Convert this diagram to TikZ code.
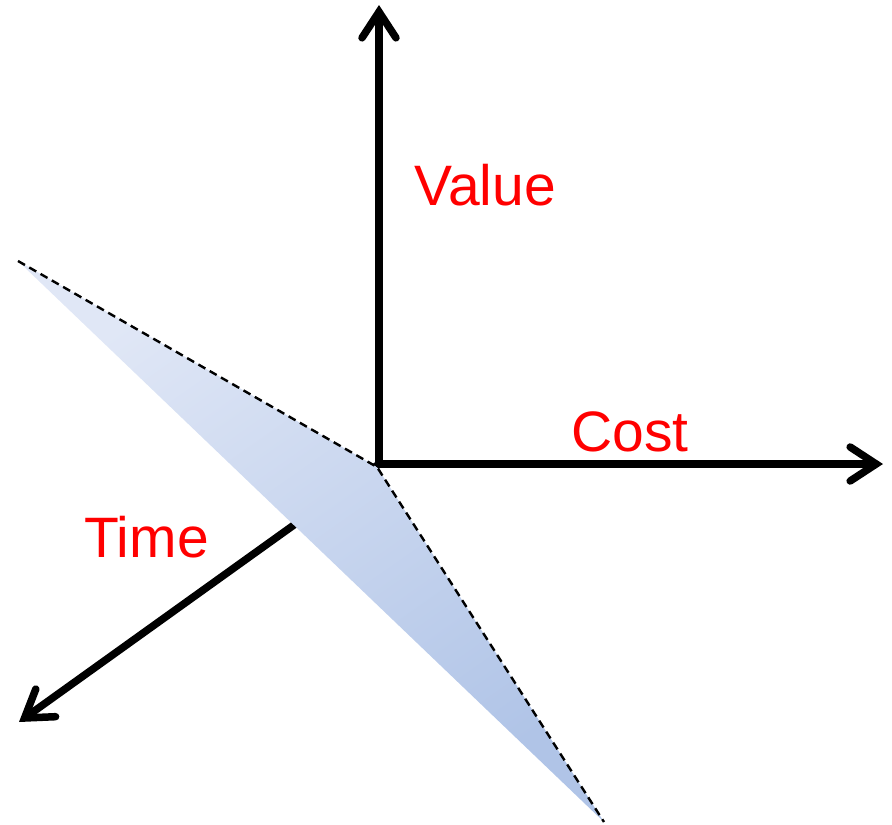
\documentclass[tikz,border=0pt]{standalone}
\usepackage{fontspec}
\setmainfont{Liberation Sans}
\usetikzlibrary{arrows.meta}
\definecolor{planedark}{RGB}{176,196,231}
\definecolor{planelight}{RGB}{224,231,246}
\tikzset{
  axis/.style={line width=7.5pt, line cap=round,
    -{Straight Barb[length=26pt,width=34pt,line cap=round,line join=miter]}},
  edge/.style={line width=2.4pt, dash pattern=on 8pt off 5pt},
  lbl/.style={text=red, inner sep=0pt, anchor=base west, font=\fontsize{57}{60}\selectfont}
}
\begin{document}
\begin{tikzpicture}[x=1pt,y=-1pt]
\useasboundingbox (0,0) rectangle (892,825);
\coordinate (O) at (379,464);
\coordinate (P) at (377,467);
\coordinate (A) at (18,261);
\coordinate (B) at (604,822);
\coordinate (Vt) at (379,5);
\coordinate (Ct) at (883,464);
\coordinate (Tt) at (19,722);
% time axis (behind plane)
\draw[axis] (O) -- (Tt);
% plane
\shade[left color=planelight, right color=planedark, shading angle=35] (A) -- (P) -- (B) -- cycle;
\draw[edge] (A) -- (P) -- (B);
% axes in front
\draw[axis] (O) -- (Vt);
\draw[axis] (O) -- (Ct);
\node[lbl] (value) at (414,205) {Value};
\node[lbl] (cost) at (571,451) {Cost};
\node[lbl] (time) at (84,557) {Time};
\end{tikzpicture}
\end{document}
